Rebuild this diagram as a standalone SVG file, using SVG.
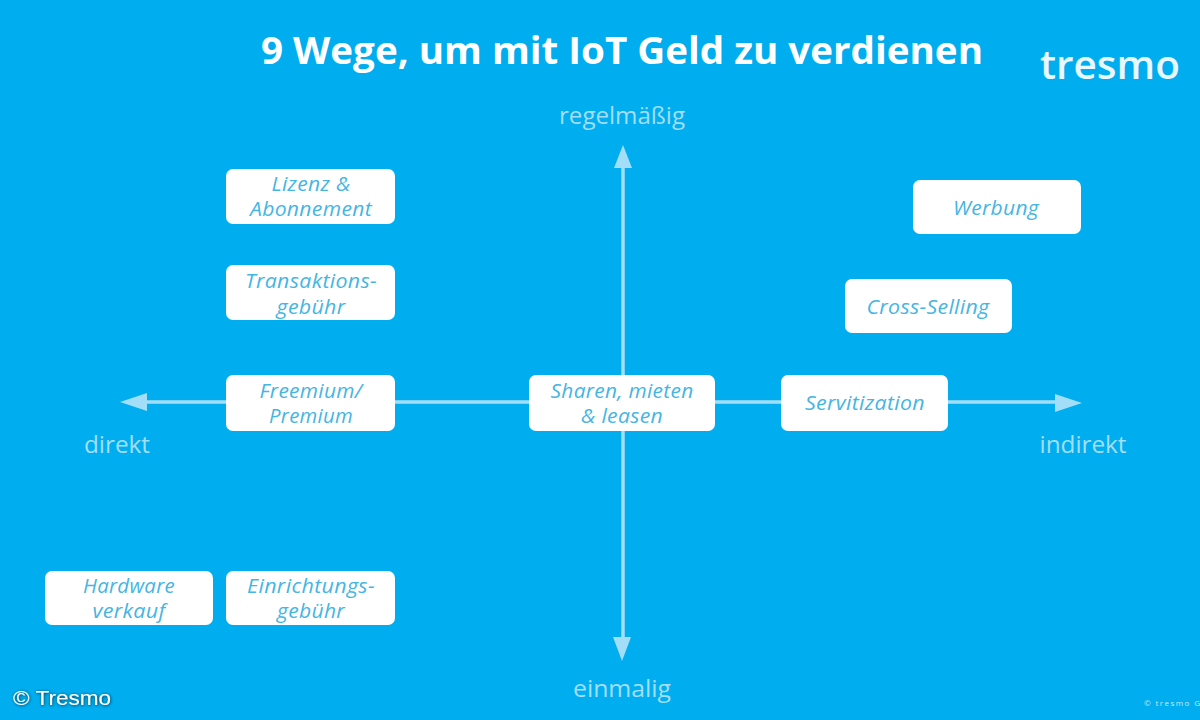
<svg xmlns="http://www.w3.org/2000/svg" width="1200" height="720" viewBox="0 0 1200 720">
<defs>
<filter id="sh" x="-20%" y="-50%" width="140%" height="200%"><feDropShadow dx="0.5" dy="0.5" stdDeviation="1.6" flood-color="#002a40" flood-opacity="1"/></filter>
</defs>
<style>
text{font-family:"Open Sans","Noto Sans","Liberation Sans",sans-serif;text-anchor:middle}
.box{fill:#fff}
.lbl{font-size:20px;font-style:italic;fill:#45b5e3;letter-spacing:0.3px}
.ax{font-size:24px;fill:#a3def8}
.line{stroke:#a3def8;stroke-width:3.5;fill:none}
.head{fill:#a3def8}
</style>
<rect width="1200" height="720" fill="#00aeef"/>
<text x="622" y="64" font-size="38" font-weight="700" fill="#fff" textLength="722" lengthAdjust="spacingAndGlyphs">9 Wege, um mit IoT Geld zu verdienen</text>
<text x="1110" y="79" font-size="40" font-weight="600" fill="#e8f8fe" textLength="140" lengthAdjust="spacingAndGlyphs">tresmo</text>
<g id="connectors">
<path class="line" d="M623 166V640M146 402H1058"/>
<polygon class="head" points="623,145 632,168 614,168"/>
<polygon class="head" points="622,661 631,637 613,637"/>
<polygon class="head" points="120,402 147,393 147,411"/>
<polygon class="head" points="1082,403 1055,394 1055,412"/>
</g>
<text class="ax" x="622" y="124" textLength="126" lengthAdjust="spacingAndGlyphs">regelmäßig</text>
<text class="ax" x="622" y="697" textLength="98" lengthAdjust="spacingAndGlyphs">einmalig</text>
<text class="ax" x="117" y="453" textLength="66" lengthAdjust="spacingAndGlyphs">direkt</text>
<text class="ax" x="1083" y="453" textLength="87" lengthAdjust="spacingAndGlyphs">indirekt</text>
<g id="lizenz"><rect class="box" x="226" y="169" width="169" height="55" rx="7"/><text class="lbl" x="311" y="191" textLength="79" lengthAdjust="spacingAndGlyphs">Lizenz &amp;</text><text class="lbl" x="311" y="216" textLength="122" lengthAdjust="spacingAndGlyphs">Abonnement</text></g>
<g id="transaktion"><rect class="box" x="226" y="265" width="169" height="55" rx="7"/><text class="lbl" x="311" y="288" textLength="132" lengthAdjust="spacingAndGlyphs">Transaktions-</text><text class="lbl" x="311" y="314" textLength="69" lengthAdjust="spacingAndGlyphs">gebühr</text></g>
<g id="freemium"><rect class="box" x="226" y="375" width="169" height="56" rx="7"/><text class="lbl" x="311" y="398" textLength="103" lengthAdjust="spacingAndGlyphs">Freemium/</text><text class="lbl" x="311" y="423" textLength="84" lengthAdjust="spacingAndGlyphs">Premium</text></g>
<g id="sharen"><rect class="box" x="529" y="375" width="186" height="56" rx="7"/><text class="lbl" x="622" y="398" textLength="143" lengthAdjust="spacingAndGlyphs">Sharen, mieten</text><text class="lbl" x="622" y="423" textLength="82" lengthAdjust="spacingAndGlyphs">&amp; leasen</text></g>
<g id="servitization"><rect class="box" x="781" y="375" width="167" height="56" rx="7"/><text class="lbl" x="865" y="410" textLength="120" lengthAdjust="spacingAndGlyphs">Servitization</text></g>
<g id="crossselling"><rect class="box" x="845" y="279" width="167" height="54" rx="7"/><text class="lbl" x="928" y="314" textLength="123" lengthAdjust="spacingAndGlyphs">Cross-Selling</text></g>
<g id="werbung"><rect class="box" x="913" y="180" width="168" height="54" rx="7"/><text class="lbl" x="996" y="215" textLength="86" lengthAdjust="spacingAndGlyphs">Werbung</text></g>
<g id="hardware"><rect class="box" x="45" y="571" width="168" height="54" rx="7"/><text class="lbl" x="129" y="593" textLength="92" lengthAdjust="spacingAndGlyphs">Hardware</text><text class="lbl" x="129" y="618" textLength="73" lengthAdjust="spacingAndGlyphs">verkauf</text></g>
<g id="einrichtung"><rect class="box" x="226" y="571" width="169" height="54" rx="7"/><text class="lbl" x="311" y="593" textLength="128" lengthAdjust="spacingAndGlyphs">Einrichtungs-</text><text class="lbl" x="311" y="618" textLength="68" lengthAdjust="spacingAndGlyphs">gebühr</text></g>
<text x="62" y="705" font-size="21" fill="#fff" filter="url(#sh)" textLength="98" lengthAdjust="spacingAndGlyphs" style="font-family:'Liberation Sans',sans-serif">© Tresmo</text>
<text x="1172" y="706" font-size="8" fill="#c4ebfb" textLength="56">©  tresmo G</text>
</svg>
